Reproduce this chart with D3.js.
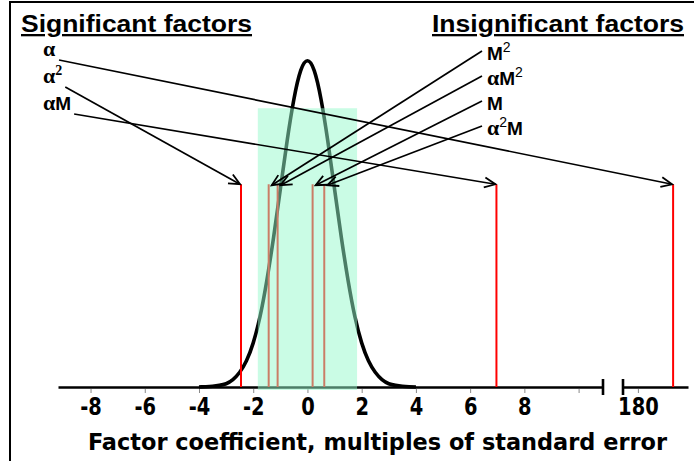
<!DOCTYPE html>
<html>
<head>
<meta charset="utf-8">
<script src="https://cdn.jsdelivr.net/npm/d3@7"></script>
<style>
  body { margin: 0; background: #fff; }
</style>
</head>
<body>
<div id="my_dataviz"></div>
<script>
// factors and their coefficients (multiples of standard error)
var factors = ["α", "α²", "αM", "M²", "αM²", "M", "α²M"];
var coefs = [181.3, -2.45, 6.97, -1.43, -1.1, 0.19, 0.62];
var significant = [true, true, true, false, false, false, false];

// reference distribution
var curveX = [-4, -3.75, -3.5, -3.25, -3, -2.75, -2.5, -2.25, -2, -1.75, -1.5, -1.25, -1, -0.75, -0.5, -0.25, 0,
              0.25, 0.5, 0.75, 1, 1.25, 1.5, 1.75, 2, 2.25, 2.5, 2.75, 3, 3.25, 3.5, 3.75, 4];
var curveY = [0, 0.0004, 0.001, 0.002, 0.004, 0.009, 0.018, 0.032, 0.054, 0.086, 0.13, 0.183, 0.242, 0.301, 0.352, 0.387, 0.399,
              0.387, 0.352, 0.301, 0.242, 0.183, 0.13, 0.086, 0.054, 0.032, 0.018, 0.009, 0.004, 0.002, 0.001, 0.0004, 0];

// non-significance band and marker height
var band = [-1.83, 1.83];
var bandTop = 0.341;
var markerTop = 0.248;

// tick labels
var ticksLeft = [-8, -6, -4, -2, 0, 2, 4, 6, 8, 10];
var ticksRight = [180];

var width = 694, height = 461;
var axisY = 387;

var svg = d3.select("#my_dataviz")
  .append("svg")
    .attr("width", width)
    .attr("height", height);

// marker for open arrowheads
svg.append("defs").append("marker")
    .attr("id", "arrow")
    .attr("viewBox", "-13 -7 15 14")
    .attr("refX", 0)
    .attr("refY", 0)
    .attr("markerUnits", "userSpaceOnUse")
    .attr("markerWidth", 15)
    .attr("markerHeight", 14)
    .attr("orient", "auto")
  .append("path")
    .attr("d", "M-11,-5 L0,0 L-11,5")
    .attr("fill", "none")
    .attr("stroke", "black")
    .attr("stroke-width", 1.8);

// frame
svg.append("path")
    .attr("d", "M10,461 L10,2 L694,2")
    .attr("fill", "none")
    .attr("stroke", "black")
    .attr("stroke-width", 2);

// broken x axis: two linear pieces
var x1 = d3.scaleLinear().domain([-9.2, 10.9]).range([58, 603]);
var x2 = d3.scaleLinear().domain([179.45, 181.85]).range([623, 688]);
function xPos(v) { return v > 100 ? x2(v) : x1(v); }

var y = d3.scaleLinear().domain([0, 0.4]).range([axisY, 60]);

function styleAxis(g) {
  g.select(".domain").attr("stroke", "black").attr("stroke-width", 2.6);
  g.selectAll(".tick line").attr("stroke", "#888").attr("stroke-width", 1).attr("y1", 2);
  g.selectAll(".tick text")
    .attr("y", 28)
    .attr("dy", 0)
    .attr("fill", "black")
    .attr("transform", "scale(0.9,1)")
    .style("font-family", "'DejaVu Sans Condensed', 'DejaVu Sans', sans-serif")
    .style("font-weight", "bold")
    .style("font-size", "24px");
}

svg.append("g")
    .attr("transform", "translate(0," + axisY + ")")
    .call(d3.axisBottom(x1).tickValues(ticksLeft).tickSize(6).tickSizeOuter(0)
      .tickFormat(function(d) { return d == 10 ? "" : String(d); }))
    .call(styleAxis);

svg.append("g")
    .attr("transform", "translate(0," + axisY + ")")
    .call(d3.axisBottom(x2).tickValues(ticksRight).tickSize(6).tickSizeOuter(0)
      .tickFormat(function(d) { return String(d); }))
    .call(styleAxis);

// break bars
svg.selectAll(".breakbar")
  .data([x1.range()[1], x2.range()[0]])
  .join("line")
    .attr("class", "breakbar")
    .attr("x1", function(d) { return d; })
    .attr("x2", function(d) { return d; })
    .attr("y1", axisY - 8)
    .attr("y2", axisY + 8)
    .attr("stroke", "black")
    .attr("stroke-width", 2.6);

// axis title
svg.append("text")
    .attr("x", 88)
    .attr("y", 450)
    .attr("textLength", 579)
    .attr("lengthAdjust", "spacingAndGlyphs")
    .style("font-family", "'DejaVu Sans Condensed', 'DejaVu Sans', sans-serif")
    .style("font-weight", "bold")
    .style("font-size", "23px")
    .text("Factor coefficient, multiples of standard error");

// distribution curve
var pts = curveX.map(function(d, i) { return [d, curveY[i]]; });
svg.append("path")
    .datum(pts)
    .attr("fill", "none")
    .attr("stroke", "black")
    .attr("stroke-width", 3.6)
    .attr("d", d3.line()
      .curve(d3.curveNatural)
      .x(function(d) { return x1(d[0]); })
      .y(function(d) { return y(d[1]); }));

// coefficient markers
svg.selectAll(".coef")
  .data(coefs)
  .join("line")
    .attr("class", "coef")
    .attr("x1", function(d) { return xPos(d); })
    .attr("x2", function(d) { return xPos(d); })
    .attr("y1", y(0))
    .attr("y2", y(markerTop))
    .attr("stroke", "red")
    .attr("stroke-width", 2);

// band, drawn over everything below it
svg.append("rect")
    .attr("x", x1(band[0]))
    .attr("width", x1(band[1]) - x1(band[0]))
    .attr("y", y(bandTop))
    .attr("height", y(0) - y(bandTop) + 3)
    .attr("fill", "rgb(150,250,204)")
    .attr("opacity", 0.5);

// titles
svg.append("text")
    .attr("x", 21)
    .attr("y", 32)
    .attr("textLength", 231)
    .attr("lengthAdjust", "spacingAndGlyphs")
    .attr("text-decoration", "underline")
    .style("font-family", "'Liberation Sans', Arial, sans-serif")
    .style("font-weight", "bold")
    .style("font-size", "23px")
    .text("Significant factors");

svg.append("text")
    .attr("x", 432)
    .attr("y", 32)
    .attr("textLength", 252)
    .attr("lengthAdjust", "spacingAndGlyphs")
    .attr("text-decoration", "underline")
    .style("font-family", "'Liberation Sans', Arial, sans-serif")
    .style("font-weight", "bold")
    .style("font-size", "23px")
    .text("Insignificant factors");

// factor labels with arrows
var li = 0, ri = 0;
factors.forEach(function(name, i) {
  var left = significant[i];
  var lx = left ? 43 : 487;
  var ly = left ? 56 + li * 27 : 60 + ri * 25;
  if (left) li++; else ri++;

  var t = svg.append("text")
      .attr("x", lx)
      .attr("y", ly)
      .style("font-weight", "bold");
  var raised = false;
  name.split("").forEach(function(ch) {
    var s = t.append("tspan");
    if (ch == "²") {
      s.attr("dy", -8).style("font-size", "14px")
        .style("font-weight", left ? "bold" : "normal")
        .style("font-family", left ? "'Liberation Serif', serif" : "'Liberation Sans', Arial, sans-serif");
      raised = true;
      s.text("2");
      return;
    }
    if (raised) { s.attr("dy", 8); raised = false; }
    if (ch == "α") {
      s.style("font-family", "'Liberation Serif', 'Times New Roman', serif").style("font-size", "22px");
    } else {
      s.style("font-family", "'Liberation Sans', Arial, sans-serif").style("font-size", "19px");
    }
    s.text(ch);
  });

  var bb = t.node().getBBox();
  var start = left ? [bb.x + bb.width + 3, ly + 4] : [lx - 5, ly - 9];
  var tip = left ? [xPos(coefs[i]) - 1, y(markerTop)] : [xPos(coefs[i]) + 3, y(markerTop) + 1];

  svg.append("line")
      .attr("x1", start[0])
      .attr("y1", start[1])
      .attr("x2", tip[0])
      .attr("y2", tip[1])
      .attr("stroke", "black")
      .attr("stroke-width", 1.7)
      .attr("marker-end", "url(#arrow)");
});
</script>
</body>
</html>
